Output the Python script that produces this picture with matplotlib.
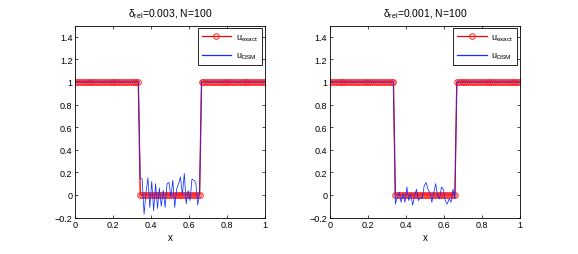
import numpy as np
import matplotlib
matplotlib.use("Agg")
import matplotlib.pyplot as plt

plt.rcParams['font.family'] = ['Liberation Sans', 'DejaVu Sans']
plt.rcParams['mathtext.fontset'] = 'custom'
plt.rcParams['mathtext.rm'] = 'Liberation Sans'
plt.rcParams['mathtext.it'] = 'Liberation Sans'

N = 100
x = np.linspace(0, 1, N)
u_exact = np.where((x > 1/3 + 1e-9) & (x < 2/3 - 1e-9), 0.0, 1.0)

# DSM values in the zero region (indices 34..65)
noise_left = [0.15, 0.14, -0.17, 0.02, 0.15, -0.11, 0.12, -0.14, 0.10, -0.12,
              0.06, -0.10, 0.04, -0.11, 0.10, 0.11, -0.02, 0.13, -0.11, 0.05,
              0.10, 0.16, 0.00, 0.19, -0.08, 0.04, -0.05, 0.14, 0.13, 0.11,
              -0.09, 0.04]
noise_right = [-0.08, -0.02, 0.025, -0.065, 0.01, -0.065, 0.07, -0.05, 0.01, -0.09,
               -0.01, 0.05, -0.05, -0.02, -0.035, 0.08, 0.11, 0.05, 0.02, -0.065,
               0.02, 0.10, -0.01, -0.035, 0.07, 0.05, -0.05, -0.08, -0.035, -0.065,
               0.05, -0.035]

titles = [r'$\delta_{\mathrm{rel}}$=0.003, N=100', r'$\delta_{\mathrm{rel}}$=0.001, N=100']
yticks = [-0.2, 0, 0.2, 0.4, 0.6, 0.8, 1, 1.2, 1.4]
ytick_labels = ['\u22120.2', '0', '0.2', '0.4', '0.6', '0.8', '1', '1.2', '1.4']
xticks = [0, 0.2, 0.4, 0.6, 0.8, 1]
xtick_labels = ['0', '0.2', '0.4', '0.6', '0.8', '1']

fig = plt.figure(figsize=(5.78, 2.55), dpi=100)
positions = [[0.130, 0.143, 0.328, 0.753], [0.571, 0.143, 0.329, 0.753]]

for pos, noise, title in zip(positions, [noise_left, noise_right], titles):
    ax = fig.add_axes(pos)
    u_dsm = u_exact.copy()
    idx = np.where(u_exact == 0)[0]
    u_dsm[idx] = np.array(noise)[:len(idx)]
    ax.plot(x, u_exact, color='#ff0000', lw=1.0, marker='o', ms=4.0,
            mfc='none', mec='#ff2020', mew=0.7, label=r'$u_{\mathrm{exact}}$')
    ax.plot(x, u_dsm, color='#1030ff', lw=0.55, label=r'$u_{\mathrm{DSM}}$')
    ax.set_xlim(0, 1)
    ax.set_ylim(-0.2, 1.5)
    ax.set_xticks(xticks)
    ax.set_xticklabels(xtick_labels)
    ax.set_yticks(yticks)
    ax.set_yticklabels(ytick_labels)
    ax.tick_params(direction='in', top=True, right=True, labelsize=6.5,
                   length=2.5, width=0.5, pad=2)
    for s in ax.spines.values():
        s.set_linewidth(0.6)
    ax.set_xlabel('x', fontsize=7, labelpad=2)
    ax.set_title(title, fontsize=7.5, pad=7)
    leg = ax.legend(loc='upper right', fontsize=6.5, fancybox=False,
                    framealpha=1, edgecolor='black', handlelength=3.3,
                    borderpad=0.45, labelspacing=0.9, handletextpad=0.5,
                    borderaxespad=0.3)
    leg.get_frame().set_linewidth(0.6)
    for line in leg.get_lines():
        line.set_linewidth(0.9)

fig.savefig('out.png', dpi=100)
